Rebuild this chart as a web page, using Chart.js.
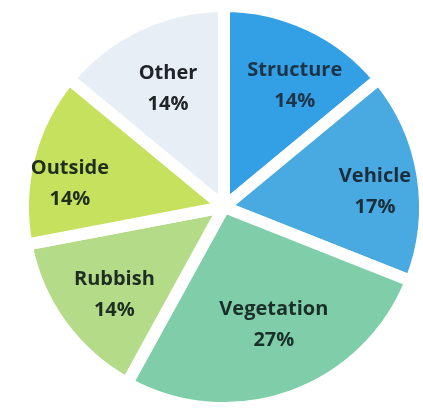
<!DOCTYPE html>
<html>
<head>
<meta charset="utf-8">
<script src="https://cdn.jsdelivr.net/npm/chart.js@4/dist/chart.umd.min.js"></script>
<style>
  html, body { margin: 0; padding: 0; background: #ffffff; overflow: hidden; }
  #wrap { width: 423px; height: 409px; position: relative; overflow: hidden; }
  #c { position: absolute; left: 0; top: 0; }
</style>
</head>
<body>
<div id="wrap"><canvas id="c" width="440" height="430"></canvas></div>
<script>
const categories = ['Structure', 'Vehicle', 'Vegetation', 'Rubbish', 'Outside', 'Other'];
const values = [14, 17, 27, 14, 14, 14];
const sliceColors = ['#33a0e6', '#48aae0', '#7fcea9', '#b4db88', '#c5e15d', '#e8eef6'];
const labelColors = ['#1d3448', '#1b2d3a', '#1b2f2a', '#1f2e22', '#1f2e1a', '#202428'];
const labelRadius = [0.70, 0.755, 0.635, 0.70, 0.775, 0.652];
const labelAngleShift = [5, 3.1, -3.2, -2.8, -5.9, -0.1];

const total = values.reduce((a, b) => a + b, 0);

const labelPlugin = {
  id: 'sliceLabels',
  afterDatasetsDraw(chart) {
    const ctx = chart.ctx;
    const meta = chart.getDatasetMeta(0);
    ctx.save();
    ctx.font = 'bold 20px "Open Sans", Lato, sans-serif';
    ctx.textAlign = 'center';
    ctx.textBaseline = 'middle';
    meta.data.forEach((arc, i) => {
      const p = arc.getProps(['x', 'y', 'startAngle', 'endAngle', 'outerRadius'], true);
      const mid = (p.startAngle + p.endAngle) / 2 + labelAngleShift[i] * Math.PI / 180;
      const r = p.outerRadius * labelRadius[i];
      const cx = p.x + Math.cos(mid) * r;
      const cy = p.y + Math.sin(mid) * r;
      const pct = Math.round(values[i] / total * 100) + '%';
      ctx.fillStyle = labelColors[i];
      ctx.fillText(categories[i], cx, cy - 15.5);
      ctx.fillText(pct, cx, cy + 15.5);
    });
    ctx.restore();
  }
};

new Chart(document.getElementById('c'), {
  type: 'pie',
  data: {
    labels: categories,
    datasets: [{
      data: values,
      backgroundColor: sliceColors,
      borderColor: '#ffffff',
      borderWidth: 12
    }]
  },
  options: {
    responsive: false,
    animation: false,
    layout: { padding: { top: 0, bottom: 16, left: 17, right: 9 } },
    plugins: {
      legend: { display: false },
      tooltip: { enabled: false }
    }
  },
  plugins: [labelPlugin]
});
</script>
</body>
</html>
